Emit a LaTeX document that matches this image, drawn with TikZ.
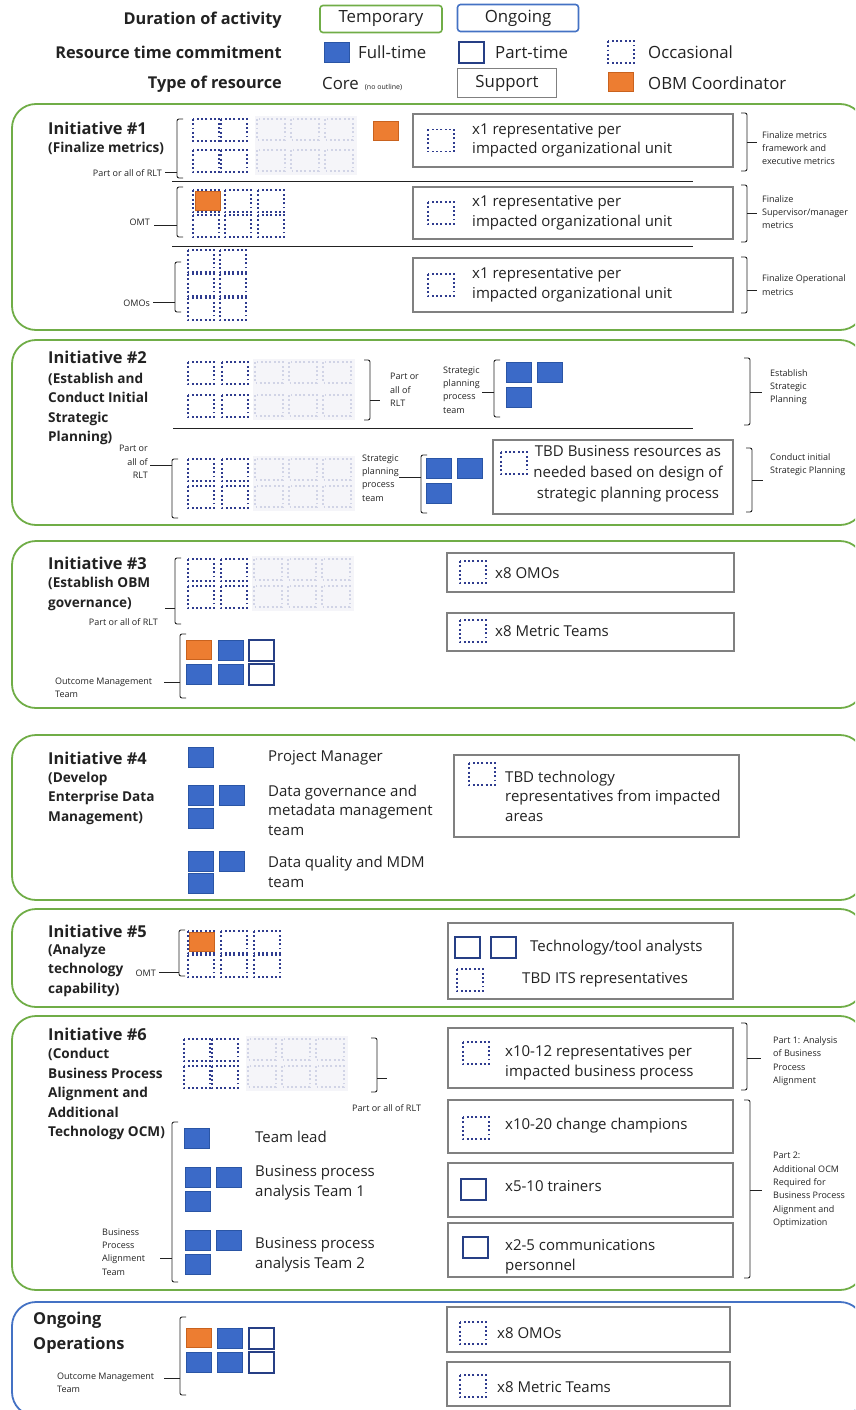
\documentclass[tikz,border=0pt]{standalone}
\usepackage{fontspec}
\setmainfont{Open Sans}

\definecolor{occblue}{HTML}{2F3C8F}
\definecolor{ftblue}{HTML}{3B6AC8}
\definecolor{ftedge}{HTML}{2A55A5}
\definecolor{ptblue}{HTML}{263F85}
\definecolor{obmorange}{HTML}{ED7D31}
\definecolor{obmedge}{HTML}{C9621E}
\definecolor{tmpgreen}{HTML}{70AD47}
\definecolor{ongblue}{HTML}{4472C4}
\definecolor{boxgray}{HTML}{808080}
\definecolor{inkgray}{HTML}{222222}

\newcommand{\hdfont}{\bfseries\fontsize{16.3}{19}\selectfont}
\newcommand{\lgfont}{\fontsize{16.8}{20}\selectfont}
\newcommand{\inifont}{\bfseries\fontsize{16.4}{20}\selectfont}
\newcommand{\subfont}{\bfseries\fontsize{13.6}{19.5}\selectfont}
\newcommand{\bxfont}{\fontsize{15}{19.5}\selectfont}
\newcommand{\smfont}{\fontsize{9}{13.3}\selectfont}

% resource squares, (x,y) = top left corner
\newcommand{\occ}[2]{\draw[occsq] (#1,#2) rectangle ++(26,22);}
\newcommand{\ful}[2]{\draw[fullsq] (#1,#2) rectangle ++(25,20);}
\newcommand{\prt}[2]{\draw[partsq] (#1,#2) rectangle ++(25,21);}
\newcommand{\obm}[2]{\draw[obmsq] (#1,#2) rectangle ++(25,19);}
% greyed-out rest of the RLT, two rows
\newcommand{\faded}[3]{%
  \fill[occblue!5] (#1,#2-3) rectangle (#1+102,#3+25);
  \foreach \fx in {0,34,68}
    {\draw[occsq, draw=occblue!22] (#1+\fx+2,#2) rectangle ++(28,21);
     \draw[occsq, draw=occblue!22] (#1+\fx+2,#3) rectangle ++(28,21);}}
% brackets: x, top, bottom, tick y, tick length
\newcommand{\lbrk}[5]{%
  \draw[brk] (#1+6,#2) -- (#1,#2) -- (#1,#3) -- (#1+6,#3);
  \draw[brk] (#1,#4) -- ++(-#5,0);}
\newcommand{\rbrk}[5]{%
  \draw[brk] (#1-6,#2) -- (#1,#2) -- (#1,#3) -- (#1-6,#3);
  \draw[brk] (#1,#4) -- ++(#5,0);}

\begin{document}
\begin{tikzpicture}[x=1pt, y=-1pt,
  every node/.style={text=inkgray},
  occsq/.style={draw=occblue, line width=1.9pt, dash pattern=on 1.9pt off 2.4pt},
  fullsq/.style={fill=ftblue, draw=ftedge, line width=0.6pt},
  partsq/.style={fill=white, draw=ptblue, line width=2.4pt},
  obmsq/.style={fill=obmorange, draw=obmedge, line width=0.8pt},
  tpanel/.style={draw=tmpgreen, line width=1.8pt, rounded corners=24pt},
  opanel/.style={draw=ongblue, line width=1.8pt, rounded corners=24pt},
  supbox/.style={draw=boxgray, line width=1.5pt},
  brk/.style={draw=inkgray, line width=0.9pt, rounded corners=2pt},
  sep/.style={draw=inkgray, line width=0.9pt},
  head/.style={anchor=east, inner sep=0pt, font=\hdfont},
  leg/.style={anchor=west, inner sep=0pt, font=\lgfont},
  tag/.style={rounded corners=3pt, line width=1.6pt, minimum width=122pt,
              minimum height=27pt, inner sep=0pt, font=\lgfont},
  ini/.style={anchor=west, inner sep=0pt, font=\inifont},
  sub/.style={anchor=west, inner sep=0pt, align=left, font=\subfont},
  bx/.style={anchor=west, inner sep=0pt, align=left, font=\bxfont},
  sm/.style={anchor=west, inner sep=0pt, align=left, font=\smfont},
  smr/.style={anchor=east, inner sep=0pt, align=right, font=\smfont}]
  \clip (0,0) rectangle (855,1410);

  % legend
  \node[head] (dur) at (282,20) {Duration of activity};
  \node[tag, draw=tmpgreen] (tmp) at (381,19) {Temporary};
  \node[tag, draw=ongblue, minimum width=121pt] (ong) at (518,18) {Ongoing};
  \node[head] (rtc) at (282,52) {Resource time commitment};
  \ful{324}{42}
  \node[leg] (ftl) at (358,52) {Full-time};
  \prt{459}{42}
  \node[leg] (ptl) at (495,52) {Part-time};
  \occ{608}{41}
  \node[leg] (ocl) at (648,52) {Occasional};
  \node[head] (tyr) at (282,84) {Type of resource};
  \node[leg] (cor) at (322,84) {Core\hspace{6pt}{\fontsize{7}{8}\selectfont(no outline)}};
  \node[supbox, minimum width=99pt, minimum height=29pt, inner sep=0pt, font=\lgfont] (sup) at (507,83) {Support};
  \obm{608}{72}
  \node[leg] (obl) at (648,83) {OBM Coordinator};

  % Initiative 1
  \draw[tpanel] (12,104) rectangle (864,330);
  \node[ini] (i1) at (48,128) {Initiative \#1};
  \node[sub] (i1s) at (48,148) {(Finalize metrics)};
  \foreach \qy in {119,150} {\occ{193}{\qy} \occ{221}{\qy}}
  \faded{255}{119}{150}
  \obm{373}{121}
  \lbrk{177}{119}{178}{172}{12}
  \node[smr] (rlt1) at (162,173) {Part or all of RLT};
  \draw[sep] (172,181) -- (693,181);
  \foreach \qx in {193,225,258} {\occ{\qx}{190} \occ{\qx}{215}}
  \obm{195}{191}
  \lbrk{177}{187}{237}{225}{23}
  \node[smr] (omt1) at (150,222) {OMT};
  \draw[sep] (172,246) -- (693,246);
  \foreach \qx in {188,220} {\foreach \qy in {250,274,298} {\occ{\qx}{\qy}}}
  \lbrk{175}{262}{312}{302}{22}
  \node[smr] (omo1) at (150,303) {OMOs};
  \foreach \n/\ya/\yb in {a/114/167, b/187/239, c/258/312} {
    \draw[supbox] (413,\ya) rectangle (733,\yb);
    \occ{428}{{(\ya+\yb)/2-11}}
    \node[bx] (rep\n) at (472,{(\ya+\yb)/2}) {x1 representative per\\impacted organizational unit};
  }
  \rbrk{747}{113}{171}{142}{10}
  \node[sm] (fm1) at (762,148) {Finalize metrics\\framework and\\executive metrics};
  \rbrk{747}{185}{242}{213}{10}
  \node[sm] (fm2) at (762,212) {Finalize\\Supervisor/manager\\metrics};
  \rbrk{747}{257}{313}{290}{10}
  \node[sm] (fm3) at (762,285) {Finalize Operational\\metrics};

  % Initiative 2
  \draw[tpanel] (12,340) rectangle (864,525);
  \node[ini] (i2) at (48,357) {Initiative \#2};
  \node[sub] (i2s) at (48,409) {(Establish and\\Conduct Initial\\Strategic\\Planning)};
  \foreach \qy in {362,395} {\occ{188}{\qy} \occ{222}{\qy}}
  \faded{253}{362}{395}
  \rbrk{370}{360}{420}{400}{10}
  \node[sm] (rlt2) at (390,390) {Part or\\all of\\RLT};
  \node[sm] (spt1) at (443,390) {Strategic\\planning\\process\\team};
  \lbrk{494}{360}{417}{392}{12}
  \ful{506}{362} \ful{537}{362} \ful{506}{387}
  \draw[sep] (173,428) -- (693,428);
  \rbrk{750}{358}{425}{392}{12}
  \node[sm] (est) at (770,387) {Establish\\Strategic\\Planning};
  \node[smr] (rlt3) at (148,462) {Part or\\all of\\RLT};
  \lbrk{172}{459}{518}{465}{22}
  \foreach \qy in {459,486} {\occ{188}{\qy} \occ{222}{\qy}}
  \faded{253}{459}{486}
  \node[sm] (spt2) at (362,478) {Strategic\\planning\\process\\team};
  \lbrk{421}{455}{513}{477}{22}
  \ful{426}{458} \ful{457}{458} \ful{426}{483}
  \draw[supbox] (493,440) rectangle (733,514);
  \occ{501}{452}
  \node[bx, anchor=center, align=center, font=\fontsize{15}{21}\selectfont] (tbd2) at (628,474)
    {TBD Business resources as\\needed based on design of\\strategic planning process};
  \rbrk{752}{448}{512}{480}{11}
  \node[sm] (cis) at (770,465) {Conduct initial\\Strategic Planning};

  % Initiative 3
  \draw[tpanel] (12,541) rectangle (864,708);
  \node[ini] (i3) at (48,563) {Initiative \#3};
  \node[sub] (i3s) at (48,594) {(Establish OBM\\governance)};
  \foreach \qy in {559,586} {\occ{188}{\qy} \occ{221}{\qy}}
  \faded{252}{559}{586}
  \lbrk{175}{558}{624}{608}{10}
  \node[smr] (rlt4) at (158,622) {Part or all of RLT};
  \obm{186}{640} \ful{218}{640} \prt{249}{640}
  \ful{186}{664} \ful{218}{664} \prt{249}{664}
  \lbrk{180}{634}{698}{682}{16}
  \node[sm] (omt3) at (55,688) {Outcome Management\\Team};
  \draw[supbox] (447,553) rectangle (734,592);
  \occ{460}{561}
  \node[bx] (omo3) at (495,573) {x8 OMOs};
  \draw[supbox] (447,613) rectangle (734,651);
  \occ{460}{620}
  \node[bx] (mt3) at (495,631) {x8 Metric Teams};

  % Initiative 4
  \draw[tpanel] (12,735) rectangle (864,900);
  \node[ini] (i4) at (48,758) {Initiative \#4};
  \node[sub] (i4s) at (48,798) {(Develop\\Enterprise Data\\Management)};
  \ful{188}{747}
  \ful{188}{785} \ful{219}{785} \ful{188}{808}
  \ful{188}{851} \ful{219}{851} \ful{188}{873}
  \node[bx] (pm) at (268,758) {Project Manager};
  \node[bx] (dgm) at (268,810) {Data governance and\\metadata management\\team};
  \node[bx] (dq) at (268,872) {Data quality and MDM\\team};
  \draw[supbox] (454,755) rectangle (739,837);
  \occ{469}{763}
  \node[bx] (tbd4) at (505,796) {TBD technology\\representatives from impacted\\areas};

  % Initiative 5
  \draw[tpanel] (12,909) rectangle (864,1007);
  \node[ini] (i5) at (48,931) {Initiative \#5};
  \node[sub] (i5s) at (48,970) {(Analyze\\technology\\capability)};
  \foreach \qx in {188,221,254} {\occ{\qx}{931} \occ{\qx}{955}}
  \obm{189}{932}
  \lbrk{179}{930}{976}{972}{20}
  \node[smr] (omt5) at (156,973) {OMT};
  \draw[supbox] (448,923) rectangle (733,999);
  \prt{455}{937} \prt{491}{937}
  \node[bx] (tta) at (530,948) {Technology/tool analysts};
  \occ{457}{969}
  \node[bx] (its) at (522,980) {TBD ITS representatives};

  % Initiative 6
  \draw[tpanel] (12,1016) rectangle (864,1290);
  \node[ini] (i6) at (48,1034) {Initiative \#6};
  \node[sub] (i6s) at (48,1094) {(Conduct\\Business Process\\Alignment and\\Additional\\Technology OCM)};
  \foreach \qy in {1039,1066} {\occ{184}{\qy} \occ{212}{\qy}}
  \faded{246}{1039}{1066}
  \rbrk{377}{1038}{1092}{1078}{10}
  \node[sm] (rlt6) at (352,1108) {Part or all of RLT};
  \lbrk{172}{1122}{1282}{1258}{12}
  \node[sm] (bpa) at (102,1252) {Business\\Process\\Alignment\\Team};
  \ful{184}{1128}
  \ful{185}{1167} \ful{216}{1167} \ful{185}{1191}
  \ful{185}{1230} \ful{216}{1230} \ful{185}{1254}
  \node[bx] (tl) at (255,1137) {Team lead};
  \node[bx] (bp1) at (255,1183) {Business process\\analysis Team 1};
  \node[bx] (bp2) at (255,1255) {Business process\\analysis Team 2};
  \draw[supbox] (448,1028) rectangle (733,1088);
  \occ{463}{1042}
  \node[bx] (r12) at (505,1063) {x10-12 representatives per\\impacted business process};
  \draw[supbox] (448,1100) rectangle (733,1153);
  \occ{463}{1117}
  \node[bx] (cc) at (505,1126) {x10-20 change champions};
  \draw[supbox] (448,1163) rectangle (733,1217);
  \prt{461}{1179}
  \node[bx] (trn) at (505,1186) {x5-10 trainers};
  \draw[supbox] (448,1223) rectangle (733,1277);
  \prt{463}{1237}
  \node[bx] (com) at (505,1257) {x2-5 communications\\personnel};
  \rbrk{747}{1023}{1090}{1058}{14}
  \node[sm] (p1) at (773,1061) {Part 1: Analysis\\of Business\\Process\\Alignment};
  \rbrk{750}{1100}{1278}{1190}{12}
  \node[sm] (p2) at (773,1190) {Part 2:\\Additional OCM\\Required for\\Business Process\\Alignment and\\Optimization};

  % Ongoing operations
  \draw[opanel] (12,1302) rectangle (864,1416);
  \node[sub, font=\bfseries\fontsize{16.4}{25}\selectfont] (ops) at (33,1333) {Ongoing\\Operations};
  \obm{186}{1328} \ful{217}{1328} \prt{249}{1328}
  \ful{186}{1352} \ful{217}{1352} \prt{249}{1352}
  \lbrk{180}{1317}{1395}{1378}{16}
  \node[sm] (omt7) at (57,1383) {Outcome Management\\Team};
  \draw[supbox] (447,1307) rectangle (730,1352);
  \occ{460}{1322}
  \node[bx] (omo7) at (497,1333) {x8 OMOs};
  \draw[supbox] (447,1362) rectangle (730,1406);
  \occ{460}{1375}
  \node[bx] (mt7) at (497,1387) {x8 Metric Teams};
\end{tikzpicture}
\end{document}
